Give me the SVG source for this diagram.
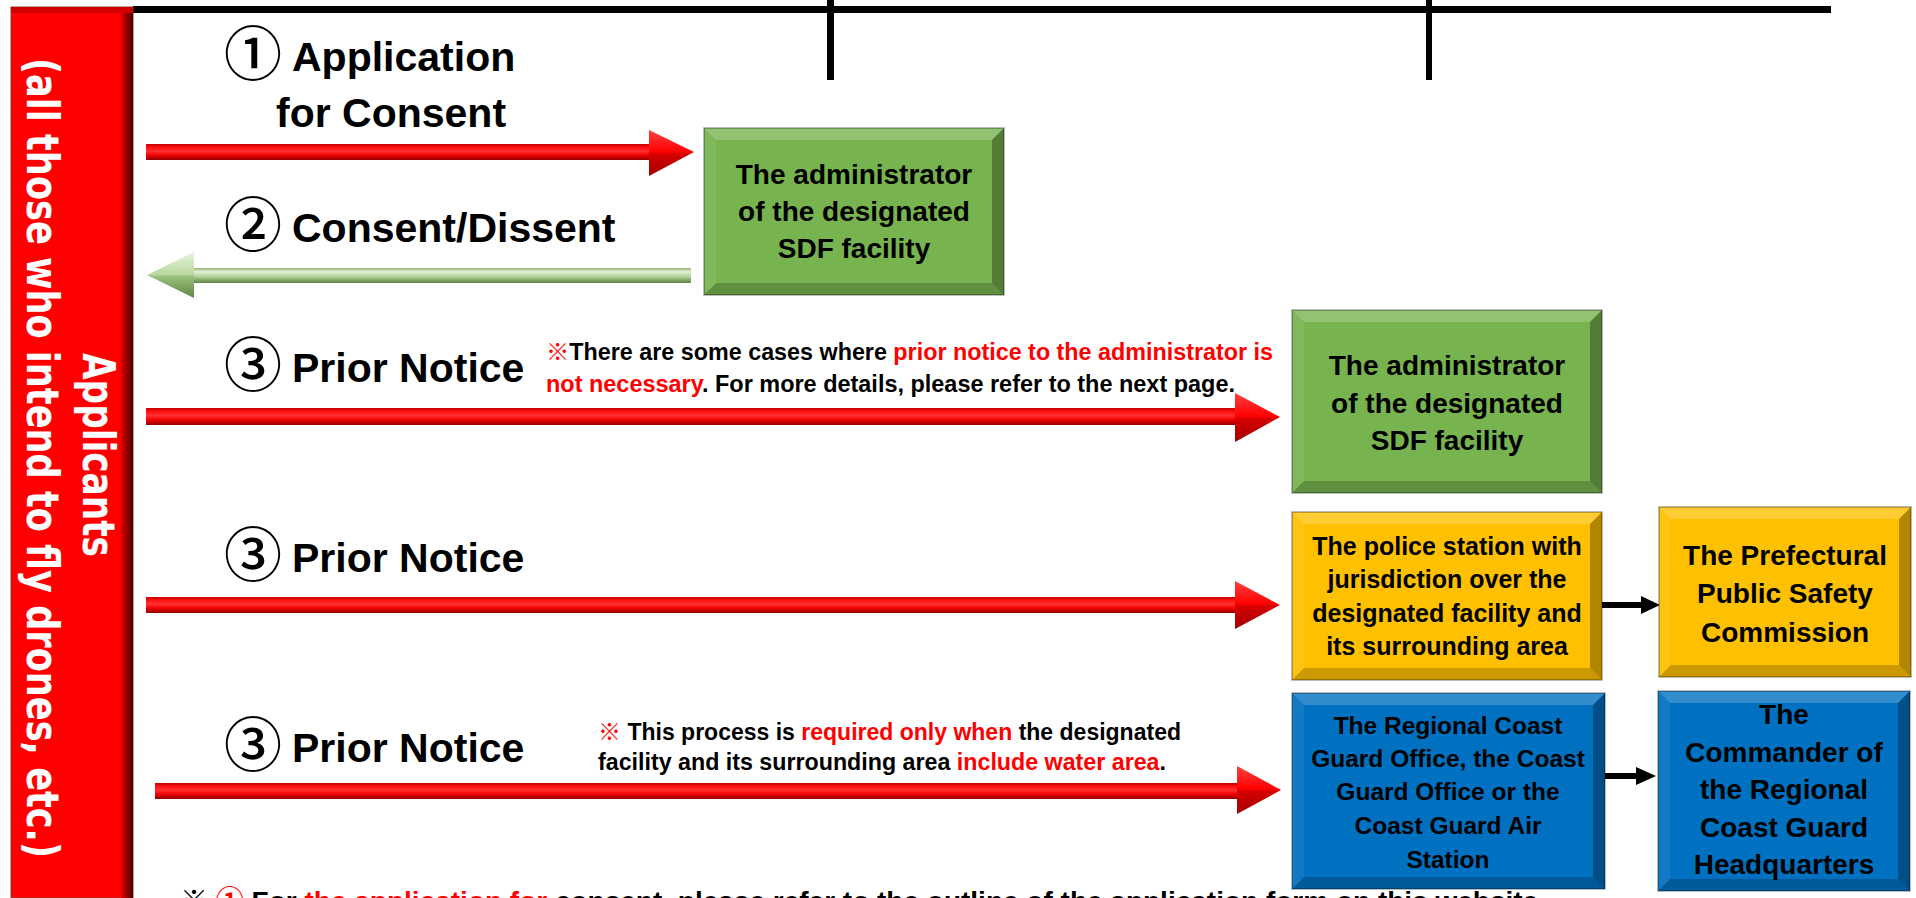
<svg xmlns="http://www.w3.org/2000/svg" width="1916" height="898" viewBox="0 0 1916 898">
<defs>
<style>
.lbl{font-family:"Liberation Sans",Arial,sans-serif;font-weight:bold;font-size:41px;fill:#000}
.num{font-family:"Noto Sans CJK JP","DejaVu Sans",sans-serif;font-weight:500;font-size:58px;fill:#000}
.bx{font-family:"Liberation Sans",Arial,sans-serif;font-weight:bold;font-size:28px;fill:#000;text-anchor:middle}
.bx25{font-size:25px}
.bx24{font-size:24.5px}
.note{font-family:"Liberation Sans","Noto Sans CJK JP",sans-serif;font-weight:bold;font-size:23px;fill:#000}
.r{fill:#FF0000}
.vt{font-family:"DejaVu Sans",sans-serif;font-weight:bold;font-size:44px;fill:#fff;text-anchor:middle}
.bt{fill:#fff;fill-opacity:.2}
.bl{fill:#fff;fill-opacity:.07}
.br{fill:#000;fill-opacity:.3}
.bb{fill:#000;fill-opacity:.2}
.gbox{fill:#77B34F}
.ybox{fill:#FFC000}
.bbox{fill:#0070C0}
.edge{fill:none;stroke:#000;stroke-opacity:.35;stroke-width:1.5}
.rs{fill:url(#redShaft)}
.rh{fill:url(#redHead)}
.blk{fill:#000}
</style>
<linearGradient id="redShaft" x1="0" y1="0" x2="0" y2="1">
<stop offset="0" stop-color="#C00000"/>
<stop offset="0.2" stop-color="#FF1010"/>
<stop offset="0.45" stop-color="#FF3030"/>
<stop offset="0.7" stop-color="#F00000"/>
<stop offset="1" stop-color="#900000"/>
</linearGradient>
<linearGradient id="redHead" x1="0" y1="0" x2="0" y2="1">
<stop offset="0" stop-color="#FF4040"/>
<stop offset="0.48" stop-color="#FF0000"/>
<stop offset="0.52" stop-color="#D80000"/>
<stop offset="1" stop-color="#A00000"/>
</linearGradient>
<linearGradient id="greenShaft" x1="0" y1="0" x2="0" y2="1">
<stop offset="0" stop-color="#8FB273"/>
<stop offset="0.25" stop-color="#E4F2D6"/>
<stop offset="0.55" stop-color="#B5D69A"/>
<stop offset="1" stop-color="#5F8444"/>
</linearGradient>
<linearGradient id="greenHead" x1="0" y1="0" x2="0" y2="1">
<stop offset="0" stop-color="#E8F5DC"/>
<stop offset="0.5" stop-color="#B7D89C"/>
<stop offset="0.52" stop-color="#9CC27F"/>
<stop offset="1" stop-color="#5F8444"/>
</linearGradient>
<linearGradient id="barEdge" x1="0" y1="0" x2="1" y2="0">
<stop offset="0" stop-color="#E00000"/>
<stop offset="1" stop-color="#4A0000"/>
</linearGradient>
</defs>

<g id="frame">
<rect x="133" y="6" width="1698" height="7" class="blk"/>
<rect x="827" y="0" width="7" height="80" class="blk"/>
<rect x="1426" y="0" width="6" height="80" class="blk"/>
</g>

<g id="applicants">
<rect x="11" y="7" width="122" height="891" fill="#FF0000" stroke="#7A4A2A" stroke-width="1"/>
<rect x="121" y="7" width="12" height="891" fill="url(#barEdge)"/>
<rect x="11" y="7" width="122" height="6" fill="#D00000"/>
<text class="vt" transform="translate(83,455) rotate(90)" textLength="204" lengthAdjust="spacingAndGlyphs">Applicants</text>
<text class="vt" transform="translate(27,458) rotate(90)" textLength="800" lengthAdjust="spacingAndGlyphs">(all those who intend to fly drones, etc.)</text>
</g>

<g id="labels">
<text class="num" x="224" y="75">①</text>
<text class="lbl" x="292" y="71">Application</text>
<text class="lbl" x="276" y="127">for Consent</text>
<text class="num" x="224" y="246">②</text>
<text class="lbl" x="292" y="242">Consent/Dissent</text>
<text class="num" x="224" y="386">③</text>
<text class="lbl" x="292" y="382">Prior Notice</text>
<text class="num" x="224" y="576">③</text>
<text class="lbl" x="292" y="572">Prior Notice</text>
<text class="num" x="224" y="766">③</text>
<text class="lbl" x="292" y="762">Prior Notice</text>
</g>

<g id="notes">
<text class="note" x="546" y="360" textLength="727" lengthAdjust="spacingAndGlyphs"><tspan class="r">※</tspan>There are some cases where <tspan class="r">prior notice to the administrator is</tspan></text>
<text class="note" x="546" y="392" textLength="689" lengthAdjust="spacingAndGlyphs"><tspan class="r">not necessary</tspan>.  For more details, please refer to the next page.</text>
<text class="note" x="598" y="740" textLength="583" lengthAdjust="spacingAndGlyphs"><tspan class="r">※</tspan> This process is <tspan class="r">required only when</tspan> the designated</text>
<text class="note" x="598" y="770" textLength="568" lengthAdjust="spacingAndGlyphs">facility and its surrounding area <tspan class="r">include water area</tspan>.</text>
<text class="note" x="180" y="911" style="font-size:28px"><tspan>※ </tspan><tspan class="r">① </tspan>For <tspan class="r">the application for</tspan> consent, please refer to the outline of the application form on this website.</text>
</g>

<g id="connectors">
<rect x="146" y="144" width="505" height="16" class="rs"/>
<polygon points="649,130 694,152 649,176" class="rh"/>
<rect x="192" y="268" width="499" height="15" fill="url(#greenShaft)"/>
<polygon points="147,275 194,252 194,298" fill="url(#greenHead)"/>
<rect x="146" y="408" width="1091" height="17" class="rs"/>
<polygon points="1235,393 1280,417 1235,442" class="rh"/>
<rect x="146" y="597" width="1091" height="16" class="rs"/>
<polygon points="1235,581 1280,605 1235,629" class="rh"/>
<rect x="155" y="783" width="1084" height="16" class="rs"/>
<polygon points="1237,766 1281,790 1237,814" class="rh"/>
<rect x="1602" y="602" width="41" height="6" class="blk"/>
<polygon points="1641,596 1660,605 1641,614" class="blk"/>
<rect x="1600" y="773" width="38" height="6" class="blk"/>
<polygon points="1636,767 1656,776 1636,785" class="blk"/>
</g>

<g id="admin1">
<rect x="704" y="128" width="300" height="167" class="gbox"/>
<polygon class="bt" points="704,128 1004,128 992,140 716,140"/>
<polygon class="bl" points="704,128 716,140 716,283 704,295"/>
<polygon class="br" points="1004,128 1004,295 992,283 992,140"/>
<polygon class="bb" points="704,295 716,283 992,283 1004,295"/>
<rect x="704" y="128" width="300" height="167" class="edge"/>
<text class="bx" x="854" y="184">The administrator</text>
<text class="bx" x="854" y="221">of the designated</text>
<text class="bx" x="854" y="258">SDF facility</text>
</g>

<g id="admin2">
<rect x="1292" y="310" width="310" height="183" class="gbox"/>
<polygon class="bt" points="1292,310 1602,310 1590,322 1304,322"/>
<polygon class="bl" points="1292,310 1304,322 1304,481 1292,493"/>
<polygon class="br" points="1602,310 1602,493 1590,481 1590,322"/>
<polygon class="bb" points="1292,493 1304,481 1590,481 1602,493"/>
<rect x="1292" y="310" width="310" height="183" class="edge"/>
<text class="bx" x="1447" y="375">The administrator</text>
<text class="bx" x="1447" y="413">of the designated</text>
<text class="bx" x="1447" y="450">SDF facility</text>
</g>

<g id="police">
<rect x="1292" y="512" width="310" height="168" class="ybox"/>
<polygon class="bt" points="1292,512 1602,512 1590,524 1304,524"/>
<polygon class="bl" points="1292,512 1304,524 1304,668 1292,680"/>
<polygon class="br" points="1602,512 1602,680 1590,668 1590,524"/>
<polygon class="bb" points="1292,680 1304,668 1590,668 1602,680"/>
<rect x="1292" y="512" width="310" height="168" class="edge"/>
<text class="bx bx25" x="1447" y="555">The police station with</text>
<text class="bx bx25" x="1447" y="588">jurisdiction over the</text>
<text class="bx bx25" x="1447" y="622">designated facility and</text>
<text class="bx bx25" x="1447" y="655">its surrounding area</text>
</g>

<g id="commission">
<rect x="1659" y="507" width="252" height="170" class="ybox"/>
<polygon class="bt" points="1659,507 1911,507 1899,519 1671,519"/>
<polygon class="bl" points="1659,507 1671,519 1671,665 1659,677"/>
<polygon class="br" points="1911,507 1911,677 1899,665 1899,519"/>
<polygon class="bb" points="1659,677 1671,665 1899,665 1911,677"/>
<rect x="1659" y="507" width="252" height="170" class="edge"/>
<text class="bx" x="1785" y="565">The Prefectural</text>
<text class="bx" x="1785" y="603">Public Safety</text>
<text class="bx" x="1785" y="642">Commission</text>
</g>

<g id="coastguard">
<rect x="1292" y="693" width="313" height="196" class="bbox"/>
<polygon class="bt" points="1292,693 1605,693 1593,705 1304,705"/>
<polygon class="bl" points="1292,693 1304,705 1304,877 1292,889"/>
<polygon class="br" points="1605,693 1605,889 1593,877 1593,705"/>
<polygon class="bb" points="1292,889 1304,877 1593,877 1605,889"/>
<rect x="1292" y="693" width="313" height="196" class="edge"/>
<text class="bx bx24" x="1448" y="734">The Regional Coast</text>
<text class="bx bx24" x="1448" y="767">Guard Office, the Coast</text>
<text class="bx bx24" x="1448" y="800">Guard Office or the</text>
<text class="bx bx24" x="1448" y="834">Coast Guard Air</text>
<text class="bx bx24" x="1448" y="868">Station</text>
</g>

<g id="commander">
<rect x="1658" y="691" width="252" height="200" class="bbox"/>
<polygon class="bt" points="1658,691 1910,691 1898,703 1670,703"/>
<polygon class="bl" points="1658,691 1670,703 1670,879 1658,891"/>
<polygon class="br" points="1910,691 1910,891 1898,879 1898,703"/>
<polygon class="bb" points="1658,891 1670,879 1898,879 1910,891"/>
<rect x="1658" y="691" width="252" height="200" class="edge"/>
<text class="bx" x="1784" y="724">The</text>
<text class="bx" x="1784" y="762">Commander of</text>
<text class="bx" x="1784" y="799">the Regional</text>
<text class="bx" x="1784" y="837">Coast Guard</text>
<text class="bx" x="1784" y="874">Headquarters</text>
</g>
</svg>
